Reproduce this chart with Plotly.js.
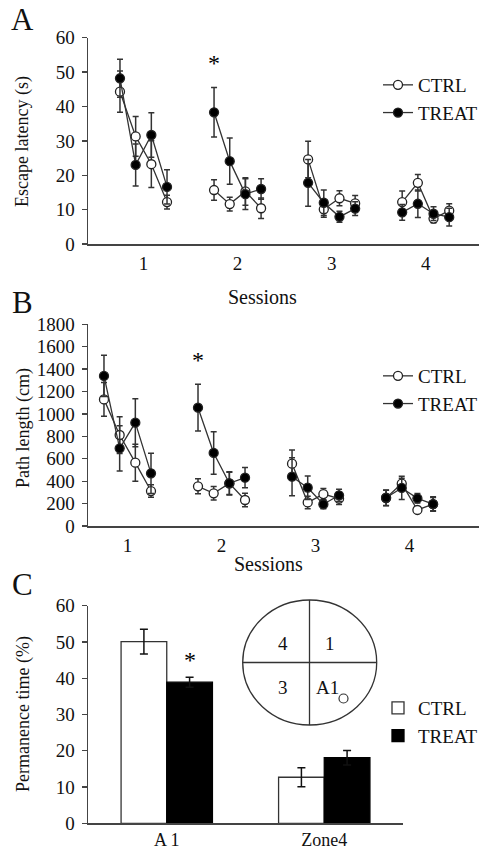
<!DOCTYPE html>
<html>
<head>
<meta charset="utf-8">
<script src="https://cdn.plot.ly/plotly-3.0.1.min.js"></script>
<style>
  html, body { margin: 0; padding: 0; background: #fff; overflow: hidden; }
  #chart { width: 479px; height: 849px; }
</style>
</head>
<body>
<div id="chart"></div>
<script>
// ---------- DATA ----------
const sessionLabels = ['1', '2', '3', '4'];
const trialsPerSession = 4;

// Panel A: escape latency (s), 4 trials per session
const latencyCtrl     = [44.3, 31.3, 23.2, 12.2, 15.7, 11.6, 15.3, 10.4, 24.6, 10.1, 13.3, 11.8, 12.2, 17.8, 7.4, 9.7];
const latencyCtrlErr  = [6.0, 5.8, 6.8, 2.0, 3.0, 2.0, 4.0, 3.0, 5.3, 2.3, 2.2, 2.3, 3.2, 2.4, 1.2, 2.0];
const latencyTreat    = [48.2, 23.0, 31.7, 16.6, 38.3, 24.1, 14.5, 16.0, 17.8, 12.0, 7.9, 10.3, 9.2, 11.7, 8.8, 7.8];
const latencyTreatErr = [5.5, 6.1, 6.5, 5.0, 7.2, 6.7, 4.5, 3.0, 6.8, 3.7, 1.6, 2.0, 2.3, 4.0, 2.0, 2.6];

// Panel B: path length (cm)
const pathCtrl     = [1130, 812, 565, 312, 354, 292, 380, 232, 556, 210, 285, 244, 250, 378, 143, 195];
const pathCtrlErr  = [150, 164, 165, 56, 67, 60, 100, 60, 122, 55, 50, 52, 70, 48, 30, 60];
const pathTreat    = [1339, 693, 922, 470, 1056, 652, 381, 431, 440, 342, 194, 274, 252, 340, 247, 196];
const pathTreatErr = [184, 202, 214, 179, 208, 190, 104, 90, 170, 105, 40, 55, 70, 104, 42, 65];

// Panel C: permanence time (%)
const zones        = ['A 1', 'Zone4'];
const permCtrl     = [50.1, 12.7];
const permCtrlErr  = [3.4, 2.6];
const permTreat    = [38.9, 18.1];
const permTreatErr = [1.4, 2.0];

// Inset quadrant labels
const quadrantLabels = ['4', '1', '3', 'A1'];

// ---------- LAYOUT HELPERS ----------
const W = 479, H = 849;
const px = x => x / W;
const py = y => 1 - y / H;
const FONT = '"Liberation Serif", "Times New Roman", Times, serif';
const INK = '#000';
const AX = '#444';

// x index of each trial: sessions separated by a gap of two trial slots
const slot = trialsPerSession + 2;
const sessionCenters = sessionLabels.map((s, i) => i * slot + (trialsPerSession - 1) / 2);

// insert a null after each session so lines break between sessions
function segmented(values, withX) {
  const out = [];
  sessionLabels.forEach((s, i) => {
    for (let j = 0; j < trialsPerSession; j++) {
      out.push(withX ? i * slot + j : values[i * trialsPerSession + j]);
    }
    if (i < sessionLabels.length - 1) out.push(null);
  });
  return out;
}
const trialX = segmented(null, true);

function lineTrace(y, err, name, filled, xa, ya, legend) {
  return {
    type: 'scatter', mode: 'lines+markers', x: trialX, y: segmented(y), name: name,
    xaxis: xa, yaxis: ya, legend: legend, cliponaxis: false, connectgaps: false,
    line: { color: '#333', width: 1.3 },
    marker: { size: 9, color: filled ? '#000' : '#fff', line: { color: '#222', width: 1.3 } },
    error_y: { type: 'data', array: segmented(err), visible: true, color: '#333', thickness: 1.5, width: 3 }
  };
}

const traces = [
  lineTrace(latencyCtrl, latencyCtrlErr, 'CTRL', false, 'x', 'y', 'legend'),
  lineTrace(latencyTreat, latencyTreatErr, 'TREAT', true, 'x', 'y', 'legend'),
  lineTrace(pathCtrl, pathCtrlErr, 'CTRL', false, 'x2', 'y2', 'legend2'),
  lineTrace(pathTreat, pathTreatErr, 'TREAT', true, 'x2', 'y2', 'legend2'),
  {
    type: 'bar', x: zones, y: permCtrl, name: 'CTRL', xaxis: 'x3', yaxis: 'y3', legend: 'legend3',
    marker: { color: '#fff', line: { color: '#333', width: 1.3 } },
    error_y: { type: 'data', array: permCtrlErr, visible: true, color: '#111', thickness: 1.5, width: 4 }
  },
  {
    type: 'bar', x: zones, y: permTreat, name: 'TREAT', xaxis: 'x3', yaxis: 'y3', legend: 'legend3',
    marker: { color: '#000', line: { color: '#000', width: 1.3 } },
    error_y: { type: 'data', array: permTreatErr, visible: true, color: '#111', thickness: 1.5, width: 4 }
  }
];

const tickFont = { family: FONT, size: 19, color: '#111' };
const yBase = {
  showline: true, linecolor: AX, linewidth: 1.5, ticks: 'outside', ticklen: 5, tickcolor: AX,
  tickwidth: 1.3, showgrid: false, zeroline: false, tickfont: tickFont, ticklabelstandoff: 3,
  automargin: false
};
const xBase = {
  showline: true, linecolor: AX, linewidth: 1.5, ticks: '', showgrid: false, zeroline: false,
  tickfont: tickFont, ticklabelstandoff: 2, automargin: false
};

const legendBase = {
  font: { family: FONT, size: 19, color: '#111' }, bgcolor: 'rgba(0,0,0,0)', borderwidth: 0,
  xanchor: 'left', yanchor: 'top', tracegroupgap: 0
};

const ann = (text, x, y, size, extra) => Object.assign({
  text: text, x: px(x), y: py(y), xref: 'paper', yref: 'paper', showarrow: false,
  font: { family: FONT, size: size, color: '#111' }, xanchor: 'center', yanchor: 'middle'
}, extra || {});

const starFont = { family: FONT, size: 24, color: INK };
const annotations = [
  ann('A', 22, 19, 31), ann('B', 22, 302, 31), ann('C', 22, 584, 31),
  ann('Escape latency (s)', 23, 142, 18, { textangle: -90 }),
  ann('Path length (cm)', 23, 428, 18, { textangle: -90 }),
  ann('Permanence time (%)', 23, 714, 18, { textangle: -90 }),
  ann('Sessions', 262, 297, 20), ann('Sessions', 268, 564, 20),
  // significance stars
  { text: '*', x: trialX[trialsPerSession + 1], y: 52.5, xref: 'x', yref: 'y', showarrow: false, font: starFont },
  { text: '*', x: trialX[trialsPerSession + 1], y: 1480, xref: 'x2', yref: 'y2', showarrow: false, font: starFont },
  { text: '*', x: zones[0], xshift: 23, y: 45, xref: 'x3', yref: 'y3', showarrow: false, font: starFont },
  // inset quadrant labels
  ann(quadrantLabels[0], 283, 643, 19), ann(quadrantLabels[1], 330, 643, 19),
  ann(quadrantLabels[2], 283, 687, 19), ann(quadrantLabels[3], 327, 687, 19)
];

const shapeLine = { color: '#333', width: 1.3 };
const shapes = [
  { type: 'circle', xref: 'paper', yref: 'paper', x0: px(242.7), x1: px(376.7), y0: py(725), y1: py(600), line: shapeLine },
  { type: 'line', xref: 'paper', yref: 'paper', x0: px(309.5), x1: px(309.5), y0: py(725), y1: py(600), line: shapeLine },
  { type: 'line', xref: 'paper', yref: 'paper', x0: px(242.7), x1: px(376.7), y0: py(662.5), y1: py(662.5), line: shapeLine },
  { type: 'circle', xref: 'paper', yref: 'paper', x0: px(339), x1: px(348), y0: py(703), y1: py(694), line: { color: '#333', width: 1.2 } }
];

const layout = {
  width: W, height: H, margin: { l: 0, r: 0, t: 0, b: 0, pad: 0, autoexpand: false },
  paper_bgcolor: '#fff', plot_bgcolor: 'rgba(0,0,0,0)',
  font: { family: FONT, color: '#111' },
  showlegend: true,
  barmode: 'group', bargap: 0.42, bargroupgap: 0,
  xaxis: Object.assign({}, xBase, { domain: [px(88), 1], range: [-2.04, 22.9], anchor: 'y',
    tickvals: sessionCenters, ticktext: sessionLabels }),
  yaxis: Object.assign({}, yBase, { domain: [py(244), py(37.7)], range: [0, 60], dtick: 10, anchor: 'x' }),
  xaxis2: Object.assign({}, xBase, { domain: [px(88), 1], range: [-1.02, 23.93], anchor: 'y2',
    tickvals: sessionCenters, ticktext: sessionLabels }),
  yaxis2: Object.assign({}, yBase, { domain: [py(526), py(324.3)], range: [0, 1800], dtick: 200, anchor: 'x2' }),
  xaxis3: Object.assign({}, xBase, { domain: [px(88), px(403)], range: [-0.5, 1.5], anchor: 'y3',
    type: 'category', ticklabelstandoff: 0, tickfont: { family: FONT, size: 18, color: '#111' } }),
  yaxis3: Object.assign({}, yBase, { domain: [py(823.3), py(605.7)], range: [0, 60], dtick: 10, anchor: 'x3' }),
  legend: Object.assign({}, legendBase, { x: px(378), y: py(66) }),
  legend2: Object.assign({}, legendBase, { x: px(378), y: py(357) }),
  legend3: Object.assign({}, legendBase, { x: px(378), y: py(689) }),
  annotations: annotations,
  shapes: shapes
};

Plotly.newPlot('chart', traces, layout, { displayModeBar: false, staticPlot: true });
</script>
</body>
</html>
